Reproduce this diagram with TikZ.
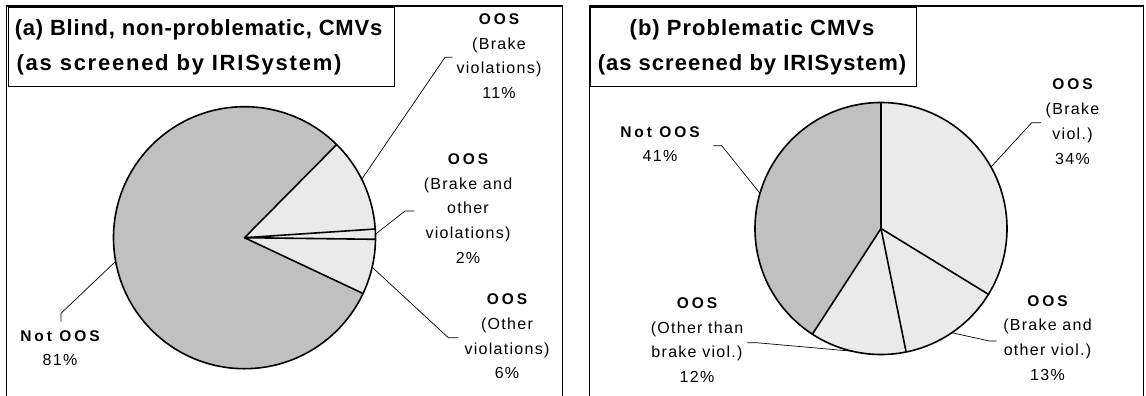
\documentclass[tikz,border=0pt]{standalone}
\usepackage{fontspec}
\setmainfont{Liberation Sans}
\newfontfamily\tfA[LetterSpace=3.5]{Liberation Sans}
\newfontfamily\tfB[LetterSpace=8]{Liberation Sans}
\newfontfamily\tfC[LetterSpace=4.6]{Liberation Sans}
\newfontfamily\labreg[LetterSpace=8]{Liberation Sans}
\newfontfamily\labbld[LetterSpace=19]{Liberation Sans}
\usetikzlibrary{calc}
\definecolor{darkg}{HTML}{C0C0C0}
\definecolor{lightg}{HTML}{EAEAEA}
\newcommand\lb{\labbld\bfseries\fontsize{15.5}{24.7}\selectfont}
\newcommand\pieslice[5]{\fill[#5] (#1) -- ++(#3:#2) arc[start angle=#3, end angle=#4, radius=#2] -- cycle;}
\begin{document}
\begin{tikzpicture}[x=1pt,y=-1pt,
  lab/.style={align=center, inner sep=0pt, font=\labreg\fontsize{16}{24.7}\selectfont},
  lead/.style={line width=0.7pt},
  rim/.style={line width=1.6pt, line join=round},
  panel/.style={line width=1.2pt},
  tbox/.style={line width=1pt},
  ttl/.style={inner sep=0pt}]
\useasboundingbox (0,0) rectangle (1146,396);
\fill[white] (0,0) rectangle (1146,396);
\clip (0,0) rectangle (1146,396);
% panels
\draw[panel] (6.7,410) -- (6.7,6) -- (562.5,6) -- (562.5,410);
\draw[panel] (589.3,410) -- (589.3,6) -- (1143.3,6) -- (1143.3,410);
\draw[tbox] (8.5,7.8) rectangle (394,86.7);
\draw[tbox] (590,7.8) rectangle (916.6,86.7);
% titles
\node[ttl, anchor=west, font=\tfA\bfseries\fontsize{22}{26}\selectfont] (ta1) at (14.6,29.5) {(a) Blind, non-problematic, CMVs};
\node[ttl, anchor=west, font=\tfB\bfseries\fontsize{22}{26}\selectfont] (ta2) at (16.4,64.5) {(as screened by IRISystem)};
\node[ttl, font=\tfC\bfseries\fontsize{22}{26}\selectfont] (tb1) at (752,29.5) {(b) Problematic CMVs};
\node[ttl, font=\tfC\bfseries\fontsize{22}{26}\selectfont] (tb2) at (752,64.5) {(as screened by IRISystem)};
% ---------- pie a ----------
\coordinate (ca) at (244.5,237.7);
\pieslice{ca}{131}{-45.3}{-334.8}{darkg}
\pieslice{ca}{131}{-3.8}{-45.3}{lightg}
\pieslice{ca}{131}{0.7}{-3.8}{lightg}
\pieslice{ca}{131}{25.2}{0.7}{lightg}
\draw[rim] (ca) circle[radius=131];
\draw[rim] ($(ca)+(-45.3:131)$) -- (ca) -- ($(ca)+(-3.8:131)$);
\draw[rim] ($(ca)+(0.7:131)$) -- (ca) -- ($(ca)+(25.2:131)$);
% labels a
\node[lab] (la1) at (499,56.2) {{\lb OOS}\\(Brake\\violations)\\11\%};
\node[lab] (la2) at (468,208.5) {{\lb OOS}\\(Brake and\\other\\violations)\\2\%};
\node[lab] (la3) at (507,336.5) {{\lb OOS}\\(Other\\violations)\\6\%};
\node[lab] (la4) at (60,348.3) {{\lb Not OOS}\\81\%};
% leaders a
\coordinate (pa1) at ($(ca)+(-26.5:131)$);
\coordinate (ka1) at (445,57.3);
\coordinate (ea1) at (452.3,57.3);
\draw[lead] (pa1) -- (ka1) -- (ea1);
\coordinate (pa2) at ($(ca)+(-1.55:131)$);
\coordinate (ka2) at (405,211);
\coordinate (ea2) at (414.3,211);
\draw[lead] (pa2) -- (ka2) -- (ea2);
\coordinate (pa3) at ($(ca)+(13:131)$);
\coordinate (ka3) at (448.3,337.7);
\coordinate (ea3) at (458.3,337.7);
\draw[lead] (pa3) -- (ka3) -- (ea3);
\coordinate (pa4) at ($(ca)+(-190.4:131)$);
\coordinate (ka4) at (61,313.3);
\coordinate (ea4) at (61,321.7);
\draw[lead] (pa4) -- (ka4) -- (ea4);
% ---------- pie b ----------
\coordinate (cb) at (881,228.5);
\pieslice{cb}{126}{31.5}{-90}{lightg}
\pieslice{cb}{126}{78.5}{31.5}{lightg}
\pieslice{cb}{126}{123}{78.5}{lightg}
\pieslice{cb}{126}{-90}{-237}{darkg}
\draw[rim] (cb) circle[radius=126];
\draw[rim] ($(cb)+(-90:126)$) -- (cb) -- ($(cb)+(31.5:126)$);
\draw[rim] ($(cb)+(78.5:126)$) -- (cb) -- ($(cb)+(123:126)$);
% labels b
\node[lab] (lb1) at (660,144.2) {{\lb Not OOS}\\41\%};
\node[lab] (lb2) at (1072.5,121.7) {{\lb OOS}\\(Brake\\viol.)\\34\%};
\node[lab] (lb3) at (1047.5,337.9) {{\lb OOS}\\(Brake and\\other viol.)\\13\%};
\node[lab] (lb4) at (697,340.2) {{\lb OOS}\\(Other than\\brake viol.)\\12\%};
% leaders b
\coordinate (pb1) at ($(cb)+(-163.8:126)$);
\coordinate (kb1) at (721.7,145.7);
\coordinate (eb1) at (713.3,145.7);
\draw[lead] (pb1) -- (kb1) -- (eb1);
\coordinate (pb2) at ($(cb)+(-29.2:126)$);
\coordinate (kb2) at (1031.7,122.7);
\coordinate (eb2) at (1041,122.7);
\draw[lead] (pb2) -- (kb2) -- (eb2);
\coordinate (pb3) at ($(cb)+(55.8:126)$);
\coordinate (kb3) at (989.3,341);
\coordinate (eb3) at (996.7,341);
\draw[lead] (pb3) -- (kb3) -- (eb3);
\coordinate (pb4) at ($(cb)+(103:126)$);
\coordinate (kb4) at (756.7,342.7);
\coordinate (eb4) at (747.3,342.7);
\draw[lead] (pb4) -- (kb4) -- (eb4);
\end{tikzpicture}
\end{document}
